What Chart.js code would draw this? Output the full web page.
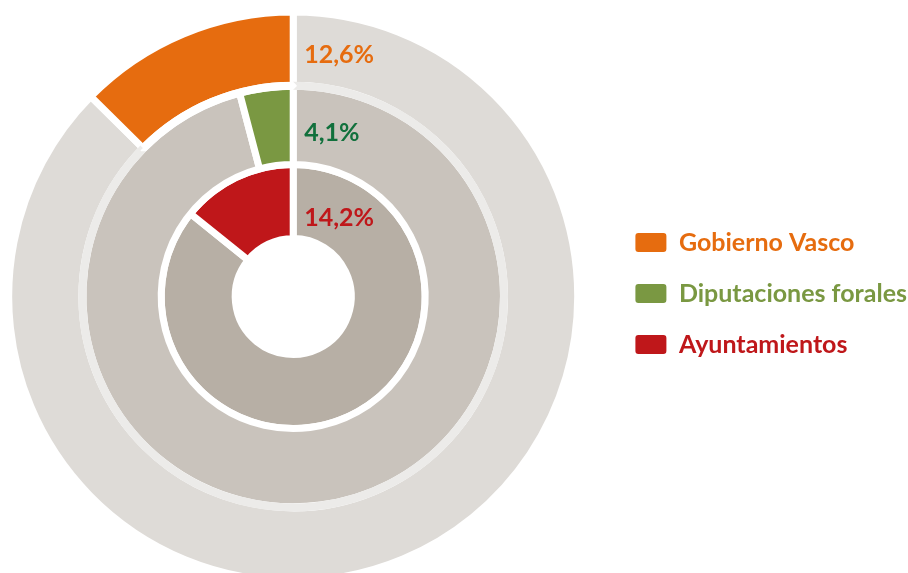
<!DOCTYPE html>
<html>
<head>
<meta charset="utf-8">
<script src="https://cdn.jsdelivr.net/npm/chart.js@4/dist/chart.umd.min.js"></script>
<style>
  html, body { margin: 0; padding: 0; background: #fff; overflow: hidden; }
  /* canvas starts a little left of the window so the rings sit where the original has them */
  #wrap { width: 940px; height: 573px; margin-left: -23px; }
</style>
</head>
<body>
<div id="wrap"><canvas id="shareChart"></canvas></div>
<script>
const categories = ["Gobierno Vasco", "Diputaciones forales", "Ayuntamientos"];
const shares = [12.6, 4.1, 14.2];
const rest = [87.4, 95.9, 85.8];
const shareLabels = ["12,6%", "4,1%", "14,2%"];

const sliceColors = ["#e66c0f", "#7a9842", "#bf171a"];
const restColors = ["#dedbd7", "#c9c3bc", "#b7afa5"];
const labelColors = ["#e66c0f", "#11703c", "#bf171a"];
const bandColor = "#ecebe9";

const FONT = "Lato";
const FONT_SIZE = 25;
const LEGEND_PAD = 26;

// dataset index of each ring (index 1 is the thin light separator)
const ringDatasets = [0, 2, 3];
// where the % label sits across each ring's thickness
const labelDepth = [0.42, 0.40, 0.28];

function ring(i, weight) {
    return {
        label: categories[i],
        data: [rest[i], shares[i]],
        backgroundColor: [restColors[i], sliceColors[i]],
        borderColor: "#ffffff",
        borderWidth: 7,
        weight: weight,
        order: 1,
    };
}

const ringLabels = {
    id: "ringLabels",
    afterDatasetsDraw(chart) {
        const ctx = chart.ctx;
        ctx.save();
        ctx.font = "bold " + FONT_SIZE + "px " + FONT;
        ctx.textAlign = "left";
        ctx.textBaseline = "middle";
        ringDatasets.forEach((dsIndex, i) => {
            const arc = chart.getDatasetMeta(dsIndex).data[1];
            const r = arc.innerRadius + (arc.outerRadius - arc.innerRadius) * labelDepth[i];
            ctx.fillStyle = labelColors[i];
            ctx.fillText(shareLabels[i], arc.x + 11, arc.y - r);
        });
        ctx.restore();
    },
};

const chart = new Chart(document.getElementById("shareChart"), {
    type: "doughnut",
    data: {
        labels: ["resto", "cuota"],
        datasets: [
            ring(0, 73.2),
            {
                label: "separador",
                data: [rest[0], shares[0]],
                backgroundColor: [bandColor, "#ffffff"],
                borderColor: [bandColor, "#ffffff"],
                borderWidth: 7,
                weight: 1,
                order: 0,
            },
            ring(1, 78.3),
            ring(2, 74),
        ],
    },
    options: {
        responsive: true,
        maintainAspectRatio: false,
        animation: false,
        events: [],
        radius: 284.5,
        cutout: (58 / 284.5 * 100) + "%",
        layout: {
            padding: { top: 20, bottom: 0, left: 0, right: 0 },
        },
        plugins: {
            tooltip: { enabled: false },
            legend: {
                position: "right",
                align: "center",
                // empty title with negative padding just nudges the items up a few px
                title: { display: true, text: "", font: { size: 1 }, padding: -3.6 },
                labels: {
                    boxWidth: 31,
                    boxHeight: 19,
                    padding: LEGEND_PAD,
                    useBorderRadius: true,
                    borderRadius: 3,
                    textAlign: "left",
                    font: { family: FONT, size: FONT_SIZE, weight: "bold" },
                    generateLabels: () => categories.map((name, i) => ({
                        text: name,
                        fillStyle: sliceColors[i],
                        strokeStyle: sliceColors[i],
                        lineWidth: 0,
                        fontColor: sliceColors[i],
                        hidden: false,
                        borderRadius: 3,
                        datasetIndex: ringDatasets[i],
                    })),
                },
            },
        },
    },
    plugins: [ringLabels],
});
</script>
</body>
</html>
